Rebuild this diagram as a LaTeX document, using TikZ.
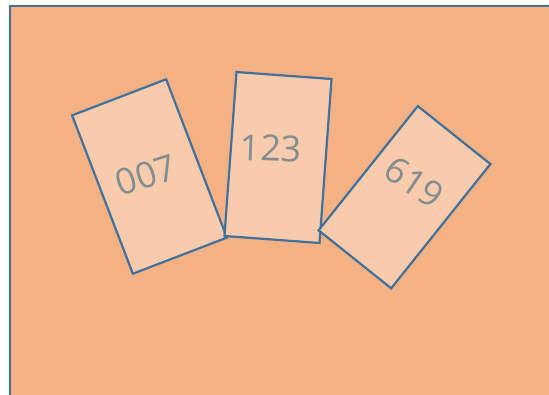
\documentclass[tikz,border=0pt]{standalone}
\usepackage{fontspec}
\newfontfamily\numfont{Open Sans}
\usetikzlibrary{positioning}
\definecolor{sheetfill}{HTML}{F4B183}
\definecolor{cardfill}{HTML}{F8CBAD}
\definecolor{edgeblue}{HTML}{41719C}
\definecolor{numgray}{RGB}{130,142,144}

\begin{document}
\begin{tikzpicture}[x=1pt, y=-1pt,
  sheet/.style={draw=edgeblue, fill=sheetfill, line width=2pt},
  card/.style={draw=edgeblue, fill=cardfill, line width=2.2pt, inner sep=0pt, minimum width=#1},
  num/.style={text=numgray, inner sep=0pt, font=\numfont\fontsize{36}{40}\selectfont}]
\useasboundingbox (0,0) rectangle (549,394);
\clip (0,0) rectangle (549,394);
\draw[sheet] (10.3,5.7) rectangle (570,420);
% cards
\node[card=100.7pt, minimum height=169.6pt, rotate=21] (c007) at (149.5,176.5) {};
\node[card=95.3pt, minimum height=164.4pt, rotate=-4.2] (c123) at (278,157.5) {};
\node[card=92.9pt, minimum height=159pt, rotate=-38.6] (c619) at (404.5,197.2) {};
% numbers
\node[num, rotate=18] (t007) at (146,175) {007};
\node[num, rotate=-2] (t123) at (271,148.5) {123};
\node[num, rotate=-34] (t619) at (414.5,182.5) {619};
\end{tikzpicture}
\end{document}
